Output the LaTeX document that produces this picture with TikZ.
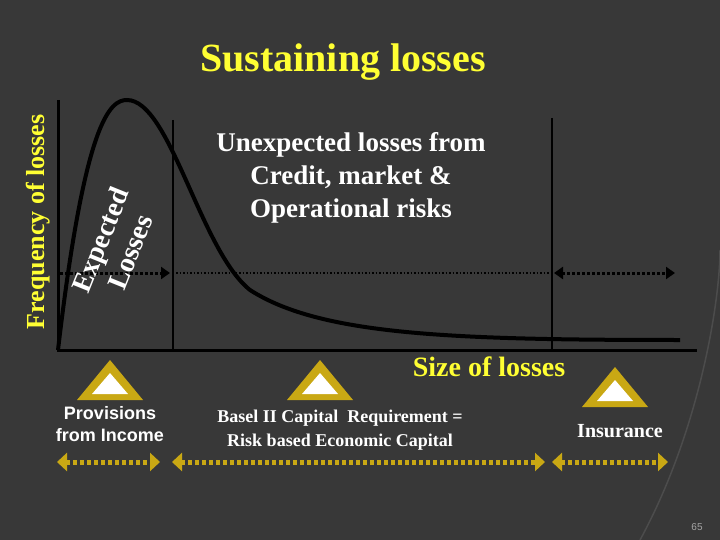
\documentclass[tikz,border=0pt]{standalone}
\usepackage{fontspec}
\setmainfont{Liberation Serif}
\setsansfont{Liberation Sans}
\usetikzlibrary{arrows.meta}
\definecolor{slide}{HTML}{383838}
\definecolor{gold}{HTML}{C9A814}
\definecolor{titleyellow}{HTML}{FFFF33}
\tikzset{
  yellowtext/.style={text=titleyellow, font=\bfseries},
  whitetext/.style={text=white, font=\bfseries, align=center},
  spanarrow/.style={gold, line width=5pt, dash pattern=on 4pt off 3pt,
    {Triangle[width=18pt,length=10pt]}-{Triangle[width=18pt,length=10pt]}},
}
\newcommand{\warnsign}[2]{%
  \fill[gold] (#1,#2) ++(0,-22) -- ++(33,40) -- ++(-66,0) -- cycle;
  \fill[white] (#1,#2) ++(0,-9) -- ++(18,21) -- ++(-36,0) -- cycle;}
\begin{document}
\begin{tikzpicture}[x=1pt,y=-1pt]
  \fill[slide] (0,0) rectangle (720,540);
  \useasboundingbox (0,0) rectangle (720,540);
  \draw[black!70, line width=1.5pt] (640,540) .. controls (700,430) and (720,300) .. (720,250);
  % title
  \node[yellowtext, font=\bfseries\fontsize{40}{46}\selectfont] (title) at (343,62) {Sustaining losses};
  % axes
  \coordinate (o) at (58,350);
  \draw[black, line width=3pt] (58,100) -- (o) -- (697,350);
  \draw[black, line width=2pt] (173,120) -- (173,350);
  \draw[black, line width=2pt] (552,118) -- (552,350);
  % loss curve
  \draw[black, line width=4pt] (o) .. controls (85,120) and (110,100) .. (127,100)
    .. controls (170,100) and (200,250) .. (250,290)
    .. controls (320,335) and (450,340) .. (680,340);
  % dotted ranges
  \draw[black, line width=3pt, dotted, -{Triangle[width=12pt,length=9pt]}] (60,273) -- (170,273);
  \draw[black, line width=1.5pt, dotted] (176,273) -- (550,273);
  \draw[black, line width=3pt, dotted, {Triangle[width=12pt,length=9pt]}-{Triangle[width=12pt,length=9pt]}] (554,273) -- (675,273);
  % labels
  \node[yellowtext, rotate=90, font=\bfseries\fontsize{26}{30}\selectfont] (freq) at (38,222) {Frequency of losses};
  \node[whitetext, rotate=68, font=\bfseries\fontsize{28}{32}\selectfont] (exp) at (115,246) {Expected\\Losses};
  \node[whitetext, font=\bfseries\fontsize{27}{33}\selectfont] (unexp) at (351,178) {Unexpected losses from\\Credit, market \&\\Operational risks};
  \node[yellowtext, font=\bfseries\fontsize{28}{30}\selectfont] (size) at (489,367) {Size of losses};
  % signs
  \warnsign{110}{382}
  \warnsign{320}{382}
  \warnsign{615}{389}
  \node[whitetext, font=\sffamily\bfseries\fontsize{18}{22}\selectfont] (prov) at (110,424) {Provisions\\from Income};
  \node[whitetext, font=\bfseries\fontsize{18}{24}\selectfont] (basel) at (340,430) {Basel II Capital\ \ Requirement =\\Risk based Economic Capital};
  \node[whitetext, font=\bfseries\fontsize{20}{22}\selectfont] (ins) at (620,431) {Insurance};
  % spans
  \draw[spanarrow] (57,462) -- (160,462);
  \draw[spanarrow] (172,462) -- (545,462);
  \draw[spanarrow] (552,462) -- (668,462);
  \node[text=gray!70, font=\sffamily\fontsize{10}{12}\selectfont] (page) at (697,527) {65};
\end{tikzpicture}
\end{document}
